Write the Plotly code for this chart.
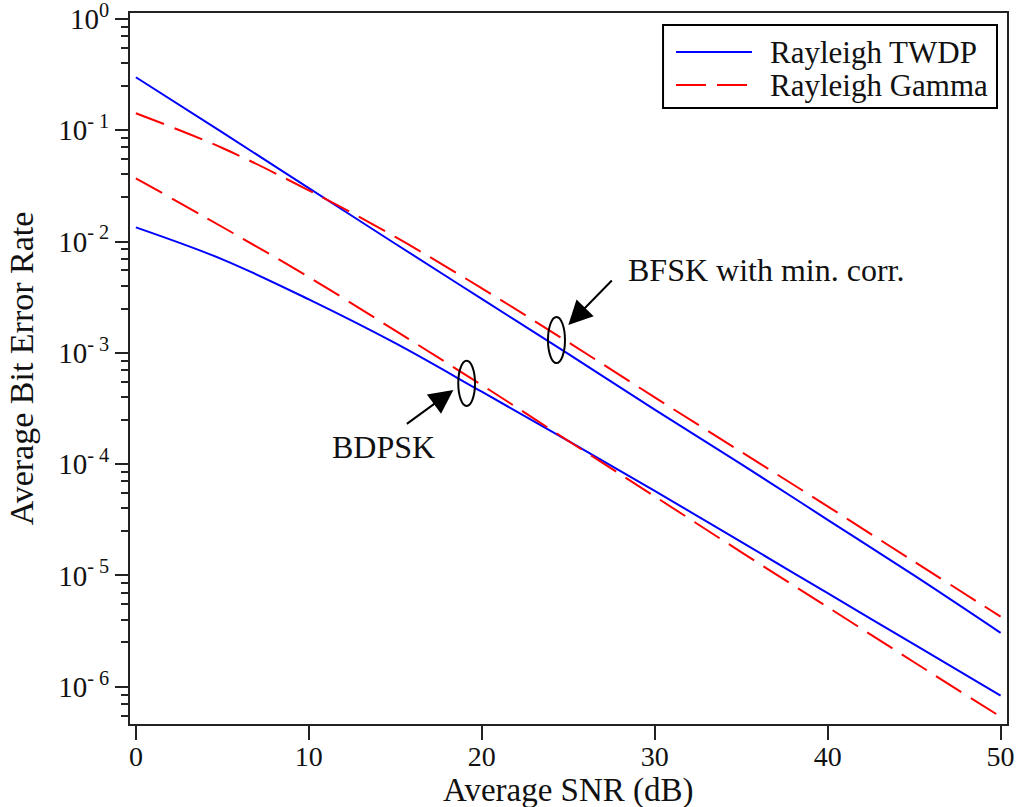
import plotly.graph_objects as go

# ---------------- data ----------------
snr_db = [0, 5, 10, 15, 20, 25, 30, 35, 40, 45, 50]

bfsk_twdp = [0.299, 0.0955, 0.0302, 0.00955, 0.00305, 9.77e-4, 3.09e-4, 1.0e-4, 3.16e-5, 1.0e-5, 3.05e-6]
bfsk_gamma = [0.142, 0.0692, 0.0288, 0.0110, 0.0038, 1.245e-3, 3.98e-4, 1.29e-4, 4.17e-5, 1.33e-5, 4.27e-6]
bdpsk_twdp = [0.0134, 6.92e-3, 3.02e-3, 1.22e-3, 4.47e-4, 1.62e-4, 5.75e-5, 2.0e-5, 6.92e-6, 2.4e-6, 8.3e-7]
bdpsk_gamma = [0.037, 0.0135, 4.79e-3, 1.58e-3, 5.13e-4, 1.62e-4, 5.13e-5, 1.62e-5, 5.19e-6, 1.66e-6, 5.37e-7]

x_ticks = [0, 10, 20, 30, 40, 50]
y_major = [1e-6, 1e-5, 1e-4, 1e-3, 1e-2, 1e-1, 1e0]
y_major_text = ["10<sup>- 6</sup>", "10<sup>- 5</sup>", "10<sup>- 4</sup>", "10<sup>- 3</sup>",
                "10<sup>- 2</sup>", "10<sup>- 1</sup>", "10<sup>0</sup>"]
minor_mult = [2.5, 4, 5.5, 7, 8.5]
decades = [1e-7, 1e-6, 1e-5, 1e-4, 1e-3, 1e-2, 1e-1]

legend_names = ["Rayleigh TWDP", "Rayleigh Gamma"]
x_title = "Average SNR (dB)"
y_title = "Average Bit Error Rate"

# ---------------- style ----------------
FONT = "Liberation Serif"
TXT = "#111111"
AX = "#222222"
BLUE = "#0000FF"
RED = "#FF0000"
DASH = "30px,11px"
minor_vals = [m * d for d in decades for m in minor_mult]

fig = go.Figure()
fig.add_trace(go.Scatter(x=snr_db, y=bfsk_twdp, mode="lines", name=legend_names[0],
                         showlegend=False, line=dict(color=BLUE, width=2, shape="spline")))
fig.add_trace(go.Scatter(x=snr_db, y=bdpsk_twdp, mode="lines", name=legend_names[0],
                         showlegend=False, line=dict(color=BLUE, width=2, shape="spline")))
fig.add_trace(go.Scatter(x=snr_db, y=bfsk_gamma, mode="lines", name=legend_names[1],
                         showlegend=False, line=dict(color=RED, width=2, dash=DASH, shape="spline")))
fig.add_trace(go.Scatter(x=snr_db, y=bdpsk_gamma, mode="lines", name=legend_names[1],
                         showlegend=False, line=dict(color=RED, width=2, dash=DASH, shape="spline")))

axis_common = dict(showline=True, linecolor=AX, linewidth=2, mirror=True,
                   ticks="outside", tickwidth=2, tickcolor=AX, showgrid=False,
                   zeroline=False, automargin=False, ticklabeloverflow="allow")

fig.update_xaxes(range=[-0.34, 50.37], tickvals=x_ticks, ticklen=14,
                 tickfont=dict(family=FONT, size=28, color=TXT),
                 ticklabelstandoff=-8,
                 **axis_common)
fig.update_yaxes(type="log", range=[-6.335, 0.053], tickvals=y_major, ticktext=y_major_text,
                 ticklen=13,
                 minor=dict(tickvals=minor_vals, ticks="outside", ticklen=7, tickwidth=2,
                            tickcolor=AX, showgrid=False),
                 tickfont=dict(family=FONT, size=29, color=TXT),
                 title=dict(text=y_title, font=dict(family=FONT, size=34, color=TXT),
                            standoff=14),
                 **axis_common)

# x-axis title placed under the tick labels
fig.add_annotation(x=0.5, y=-0.0935, xref="paper", yref="paper", text=x_title,
                   xanchor="center", yanchor="middle", showarrow=False,
                   font=dict(family=FONT, size=33, color=TXT))

# ---------------- legend drawn in paper coordinates ----------------
fig.add_shape(type="rect", xref="paper", yref="paper", x0=0.6078, x1=0.9886, y0=0.8664, y1=0.9831,
              line=dict(color="black", width=2), fillcolor="white", layer="above")
legend_rows = [(0.9451, BLUE, "solid"), (0.8987, RED, DASH)]
for name, (yy, col, dsh) in zip(legend_names, legend_rows):
    fig.add_shape(type="line", xref="paper", yref="paper", x0=0.6226, x1=0.7092, y0=yy, y1=yy,
                  line=dict(color=col, width=2, dash=dsh), layer="above")
    fig.add_annotation(x=0.7275, y=yy, xref="paper", yref="paper", text=name,
                       xanchor="left", yanchor="middle", showarrow=False,
                       font=dict(family=FONT, size=31, color=TXT))

# ellipses marking the curve pairs (paper coordinates)
fig.add_shape(type="circle", xref="paper", yref="paper",
              x0=0.4766, x1=0.4960, y0=0.5077, y1=0.5724,
              line=dict(color="black", width=2))
fig.add_shape(type="circle", xref="paper", yref="paper",
              x0=0.3743, x1=0.3934, y0=0.4473, y1=0.5110,
              line=dict(color="black", width=2))

# arrows
for (ax_x, ax_y, dx, dy) in [(0.4998, 0.5612, 45, -46), (0.3687, 0.4698, -48, 35)]:
    fig.add_annotation(x=ax_x, y=ax_y, xref="paper", yref="paper", text=" ",
                       font=dict(size=1), showarrow=True, ax=dx, ay=dy,
                       arrowhead=2, arrowsize=2.4, arrowwidth=2, arrowcolor="black",
                       standoff=0, startstandoff=0)

fig.add_annotation(x=0.7252, y=0.6385, xref="paper", yref="paper", text="BFSK with min. corr.",
                   xanchor="center", yanchor="middle", showarrow=False,
                   font=dict(family=FONT, size=32, color=TXT))
fig.add_annotation(x=0.2885, y=0.3896, xref="paper", yref="paper", text="BDPSK",
                   xanchor="center", yanchor="middle", showarrow=False,
                   font=dict(family=FONT, size=32, color=TXT))

fig.update_layout(
    width=1018, height=807,
    margin=dict(l=130, r=11, t=13, b=83),
    paper_bgcolor="white", plot_bgcolor="white",
    font=dict(family=FONT, color=TXT),
    showlegend=False,
)

fig.write_html("out.html")
